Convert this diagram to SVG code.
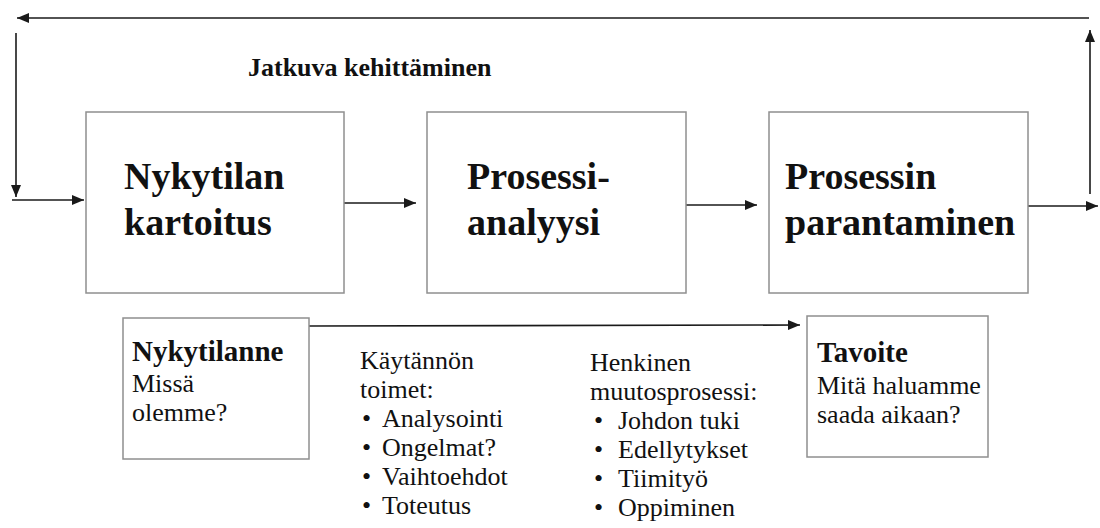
<svg xmlns="http://www.w3.org/2000/svg" width="1100" height="528" viewBox="0 0 1100 528">
  <style>
    .box { fill: #ffffff; stroke: #8f8f8f; stroke-width: 1.5; }
    .wire { fill: none; stroke: #1a1a1a; stroke-width: 1.6; }
    text { font-family: 'Liberation Serif', 'Times New Roman', serif; fill: #111111; }
    .big { font-size: 38px; font-weight: bold; }
    .cap { font-size: 26px; font-weight: bold; }
    .head { font-size: 29px; font-weight: bold; }
    .body { font-size: 26px; }
  </style>
  <defs>
    <marker id="arrow" viewBox="0 0 12 10" refX="12" refY="5" markerWidth="12" markerHeight="10" markerUnits="userSpaceOnUse" orient="auto">
      <path d="M0,0 L12,5 L0,10 Z" fill="#1a1a1a"/>
    </marker>
  </defs>

  <rect width="1100" height="528" fill="#ffffff"/>

  <!-- connectors -->
  <g id="connectors">
    <!-- feedback loop across the top -->
    <line class="wire" x1="1089" y1="18" x2="17" y2="18" marker-end="url(#arrow)"/>
    <line class="wire" x1="16" y1="33" x2="16" y2="197" marker-end="url(#arrow)"/>
    <line class="wire" x1="12" y1="200" x2="84" y2="200" marker-end="url(#arrow)"/>
    <!-- main process chain -->
    <line class="wire" x1="344" y1="203" x2="416" y2="203" marker-end="url(#arrow)"/>
    <line class="wire" x1="686" y1="205" x2="757" y2="205" marker-end="url(#arrow)"/>
    <line class="wire" x1="1028" y1="206" x2="1098" y2="206" marker-end="url(#arrow)"/>
    <line class="wire" x1="1090" y1="194" x2="1090" y2="30" marker-end="url(#arrow)"/>
    <!-- current state to goal -->
    <line class="wire" x1="309" y1="326" x2="800" y2="325" marker-end="url(#arrow)"/>
  </g>

  <text class="cap" x="248" y="76">Jatkuva kehittäminen</text>

  <g id="nykytilan-kartoitus">
    <rect class="box" x="86" y="112" width="258" height="181"/>
    <text class="big" x="124" y="189">Nykytilan</text>
    <text class="big" x="124" y="235">kartoitus</text>
  </g>

  <g id="prosessianalyysi">
    <rect class="box" x="427" y="112" width="259" height="181"/>
    <text class="big" x="467" y="189">Prosessi-</text>
    <text class="big" x="467" y="235">analyysi</text>
  </g>

  <g id="prosessin-parantaminen">
    <rect class="box" x="769" y="112" width="259" height="181"/>
    <text class="big" x="785" y="189">Prosessin</text>
    <text class="big" x="785" y="235">parantaminen</text>
  </g>

  <g id="nykytilanne">
    <rect class="box" x="123" y="318" width="186" height="141"/>
    <text class="head" x="132" y="361">Nykytilanne</text>
    <text class="body" x="132" y="392">Missä</text>
    <text class="body" x="132" y="421">olemme?</text>
  </g>

  <g id="kaytannon-toimet">
    <text class="body" x="360" y="369">Käytännön</text>
    <text class="body" x="360" y="398">toimet:</text>
    <text class="body" x="362" y="427">•</text>
    <text class="body" x="382" y="427">Analysointi</text>
    <text class="body" x="362" y="456">•</text>
    <text class="body" x="382" y="456">Ongelmat?</text>
    <text class="body" x="362" y="485">•</text>
    <text class="body" x="382" y="485">Vaihtoehdot</text>
    <text class="body" x="362" y="514">•</text>
    <text class="body" x="382" y="514">Toteutus</text>
  </g>

  <g id="henkinen-muutosprosessi">
    <text class="body" x="590" y="371">Henkinen</text>
    <text class="body" x="590" y="400">muutosprosessi:</text>
    <text class="body" x="594" y="429">•</text>
    <text class="body" x="618" y="429">Johdon tuki</text>
    <text class="body" x="594" y="458">•</text>
    <text class="body" x="618" y="458">Edellytykset</text>
    <text class="body" x="594" y="487">•</text>
    <text class="body" x="618" y="487">Tiimityö</text>
    <text class="body" x="594" y="516">•</text>
    <text class="body" x="618" y="516">Oppiminen</text>
  </g>

  <g id="tavoite">
    <rect class="box" x="807" y="316" width="181" height="141"/>
    <text class="head" x="817" y="362">Tavoite</text>
    <text class="body" x="817" y="394">Mitä haluamme</text>
    <text class="body" x="817" y="423">saada aikaan?</text>
  </g>
</svg>
